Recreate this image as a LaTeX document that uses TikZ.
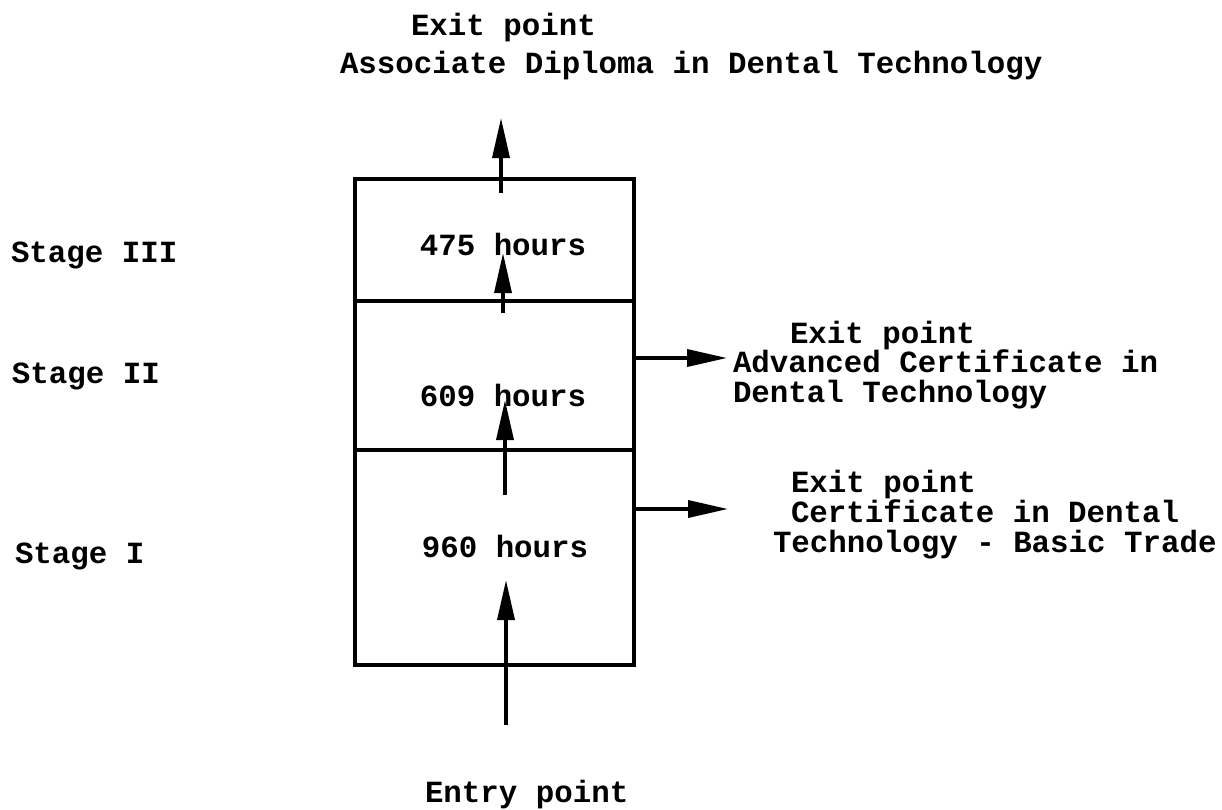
\documentclass[tikz,border=0pt]{standalone}
\usepackage{fontspec}
\usetikzlibrary{arrows.meta}
\newfontfamily\cour{Liberation Mono}
\tikzset{
  txt/.style={inner sep=0pt, outer sep=0pt, font=\cour\bfseries\fontsize{30.8}{30}\selectfont},
  stagebox/.style={draw, line width=4pt, inner sep=0pt, minimum width=279pt, anchor=north west},
  flow/.style={line width=3.5pt, -{Triangle[length=40pt,width=17pt]}}
}
\begin{document}
\begin{tikzpicture}[x=1pt,y=-1pt]
\useasboundingbox (0,0) rectangle (1222,809);
% boxes
\node[stagebox, minimum height=122pt] (s3) at (353,177) {};
\node[stagebox, minimum height=149pt] (s2) at (353,299) {};
\node[stagebox, minimum height=215pt] (s1) at (353,448) {};
% texts
\node[txt, anchor=base west] (top1) at (411,35) {Exit point};
\node[txt, anchor=base west] (top2) at (340,73) {Associate Diploma in Dental Technology};
\node[txt, anchor=base west] (st3) at (11,262) {Stage III};
\node[txt, anchor=base west] (st2) at (12,383) {Stage II};
\node[txt, anchor=base west] (st1) at (15,563) {Stage I};
\node[txt, anchor=base] (h3) at (503,255) {475 hours};
\node[txt, anchor=base] (h2) at (503,406) {609 hours};
\node[txt, anchor=base] (h1) at (505,557) {960 hours};
\node[txt, anchor=base west] (r2a) at (790,343) {Exit point};
\node[txt, anchor=base west] (r2b) at (733,372) {Advanced Certificate in};
\node[txt, anchor=base west] (r2c) at (733,402) {Dental Technology};
\node[txt, anchor=base west] (r1a) at (791,492) {Exit point};
\node[txt, anchor=base west] (r1b) at (791,522) {Certificate in Dental};
\node[txt, anchor=base west] (r1c) at (773,552) {Technology - Basic Trade};
\node[txt, anchor=base west] (entry) at (425,802) {Entry point};
% arrow end points
\coordinate (e0) at (506,725);
\coordinate (e1) at (506,580);
\coordinate (a0) at (505,495);
\coordinate (a1) at (505,400);
\coordinate (b0) at (503,313);
\coordinate (b1) at (503,253);
\coordinate (c0) at (501,193);
\coordinate (c1) at (501,118);
\coordinate (x2) at (727,358);
\coordinate (x1) at (728,509);
% arrows
\draw[flow] (e0) -- (e1);
\draw[flow] (a0) -- (a1);
\draw[flow] (b0) -- (b1);
\draw[flow] (c0) -- (c1);
\draw[flow] (s2.east |- x2) -- (x2);
\draw[flow] (s1.east |- x1) -- (x1);
\end{tikzpicture}
\end{document}
